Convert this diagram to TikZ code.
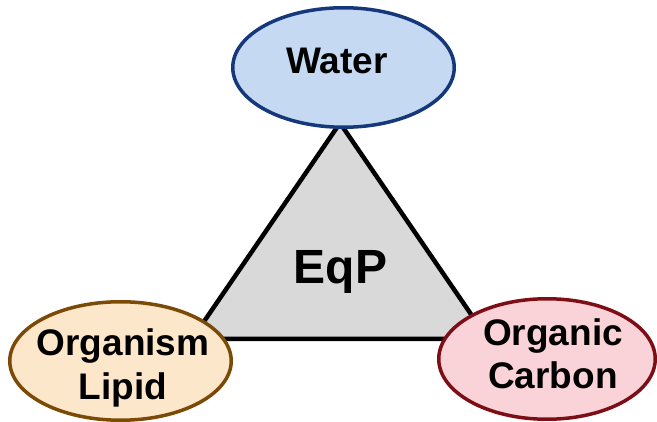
\documentclass[tikz,border=0pt]{standalone}
\usepackage{fontspec}
\setmainfont{Liberation Sans}
\usetikzlibrary{shapes.geometric}
\definecolor{trifill}{RGB}{217,217,217}
\definecolor{wfill}{RGB}{198,217,243}
\definecolor{wline}{RGB}{20,56,122}
\definecolor{lfill}{RGB}{253,231,203}
\definecolor{lline}{RGB}{122,74,6}
\definecolor{cfill}{RGB}{250,211,216}
\definecolor{cline}{RGB}{125,14,22}
\tikzset{
  bubble/.style={ellipse, line width=3.5pt, inner sep=0pt},
  lbl/.style={anchor=base, inner sep=0pt, font=\bfseries\fontsize{37}{44}\selectfont},
}
\begin{document}
\begin{tikzpicture}[x=1pt,y=-1pt]
\useasboundingbox (0,0) rectangle (657,422);
\coordinate (tA) at (340,123);
\coordinate (tB) at (192,339);
\coordinate (tC) at (488,339);
\filldraw[fill=trifill, draw=black, line width=4.5pt, line join=miter] (tA) -- (tB) -- (tC) -- cycle;
\node[lbl, font=\bfseries\fontsize{48}{50}\selectfont] (eqp) at (340.5,283.3) {EqP};
\node[bubble, fill=wfill, draw=wline, minimum width=221.5pt, minimum height=119.5pt] (water) at (343.5,67.5) {};
\node[bubble, fill=lfill, draw=lline, minimum width=221.5pt, minimum height=118.5pt] (lipid) at (120.5,361) {};
\node[bubble, fill=cfill, draw=cline, minimum width=216.5pt, minimum height=120.5pt] (carbon) at (547,359) {};
\node[lbl] (wtxt) at (337,73.3) {Water};
\node[lbl] (ltxt1) at (123,356) {Organism};
\node[lbl] (ltxt2) at (123,400) {Lipid};
\node[lbl] (ctxt1) at (553,345.7) {Organic};
\node[lbl] (ctxt2) at (553,388.3) {Carbon};
\end{tikzpicture}
\end{document}
